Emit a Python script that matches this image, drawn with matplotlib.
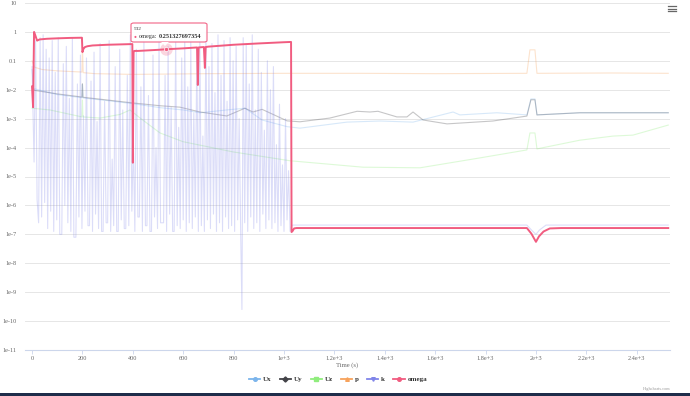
import matplotlib.pyplot as plt
import numpy as np
from matplotlib.lines import Line2D
from matplotlib.patches import FancyBboxPatch, Polygon, Rectangle

plt.rcParams['font.family'] = ['Liberation Serif', 'DejaVu Serif']

# ---- data (time in s, residual values) ----
omega_t = [0, 4, 8, 12, 20, 30, 60, 100, 150, 198, 200, 204, 210, 220, 240, 300, 350,
           398, 400, 403, 406, 420, 500, 532, 600, 655, 658, 661, 682, 686, 689, 700,
           800, 900, 1000, 1028, 1030, 1034, 1040, 1050, 1500, 1964, 1982, 2000, 2012,
           2030, 2055, 2100, 2525]
omega = [0.013, 0.0025, 1.0, 0.8, 0.5, 0.55, 0.58, 0.6, 0.62, 0.63, 0.2, 0.26, 0.3, 0.32,
         0.34, 0.36, 0.37, 0.38, 3e-5, 0.2, 0.22, 0.22, 0.24, 0.2513, 0.27, 0.29, 0.0146,
         0.29, 0.3, 0.057, 0.3, 0.31, 0.36, 0.4, 0.44, 0.45, 1.2e-7, 1.3e-7, 1.6e-7,
         1.65e-7, 1.65e-7, 1.65e-7, 1.05e-7, 5.5e-8, 8.5e-8, 1.25e-7, 1.6e-7, 1.65e-7,
         1.65e-7]

Ux_t = [0, 6, 100, 198, 200, 202, 300, 400, 508, 600, 667, 773, 845, 913, 1012, 1063,
        1250, 1381, 1512, 1671, 1698, 1845, 1964, 1980, 1996, 2004, 2174, 2525]
Ux = [0.05, 0.011, 0.0068, 0.0053, 0.015, 0.0052, 0.0042, 0.0033, 0.0024, 0.002, 0.0016,
      0.002, 0.0023, 0.0009, 0.00053, 0.00047, 0.00076, 0.00083, 0.00076, 0.0017, 0.00135,
      0.0016, 0.00135, 0.0048, 0.0048, 0.00135, 0.0016, 0.0016]

Uy_t = [0, 10, 100, 198, 200, 202, 300, 400, 508, 587, 667, 773, 845, 877, 913, 1012,
        1063, 1182, 1290, 1341, 1373, 1448, 1488, 1512, 1552, 1647, 1829, 1964, 1980,
        1996, 2004, 2174, 2525]
Uy = [0.012, 0.0095, 0.0072, 0.0056, 0.016, 0.0055, 0.0044, 0.0035, 0.0028, 0.0025,
      0.0017, 0.00124, 0.0023, 0.0017, 0.0021, 0.00084, 0.00078, 0.00105, 0.0018, 0.0017,
      0.0018, 0.00115, 0.00115, 0.0017, 0.0009, 0.00066, 0.00083, 0.00123, 0.0045,
      0.0045, 0.00135, 0.0016, 0.0016]

Uz_t = [0, 71, 198, 200, 202, 270, 349, 389, 429, 508, 599, 797, 1024, 1313, 1540, 1778,
        1964, 1976, 1996, 2004, 2174, 2306, 2385, 2525]
Uz = [0.0023, 0.002, 0.00115, 0.0044, 0.00115, 0.00105, 0.0014, 0.002, 0.00105, 0.00032,
      0.00016, 7.1e-5, 3.5e-5, 2.1e-5, 2e-5, 4.4e-5, 8.3e-5, 3.2e-4, 3.2e-4, 9e-5,
      1.8e-4, 2.5e-4, 2.7e-4, 6e-4]

p_t = [0, 10, 40, 100, 198, 200, 203, 250, 400, 700, 1000, 1300, 1600, 1964, 1976, 1996,
       2004, 2300, 2525]
p = [0.1, 0.06, 0.05, 0.045, 0.041, 0.3, 0.039, 0.036, 0.034, 0.036, 0.037, 0.037, 0.036,
     0.037, 0.24, 0.24, 0.037, 0.038, 0.037]

# k oscillates wildly until ~1030 s (log10 values)
k_t = [0, 8, 14, 20, 26, 32, 38, 44, 50, 56, 62, 68, 74, 80, 86, 92, 98, 104, 110, 118,
       124, 130, 136, 142, 148, 154, 160, 166, 174, 180, 186, 192, 198, 204, 210, 216,
       222, 228, 234, 240, 246, 252, 258, 264, 270, 276, 282, 288, 294, 300, 306, 312,
       318, 324, 330, 336, 342, 348, 354, 360, 366, 372, 378, 384, 390, 396, 402, 408,
       414, 420, 426, 432, 438, 444, 450, 456, 462, 468, 474, 480, 486, 492, 498, 504,
       510, 516, 522, 528, 534, 540, 546, 552, 558, 564, 570, 576, 582, 588, 594, 600,
       606, 612, 618, 624, 630, 636, 642, 648, 654, 660, 666, 672, 678, 684, 690, 696,
       702, 708, 714, 720, 726, 732, 738, 744, 750, 756, 762, 768, 774, 780, 786, 792,
       798, 804, 810, 816, 822, 828, 833, 838, 844, 850, 856, 862, 868, 874, 880, 886,
       892, 898, 904, 910, 916, 922, 928, 934, 940, 946, 952, 958, 964, 970, 976, 982,
       988, 994, 1000, 1006, 1012, 1018, 1024, 1030, 1036, 1964, 1982, 2000, 2014, 2040,
       2525]
k_log = [-1.2, -4.5, -0.3, -5.8, -6.6, -0.2, -6.4, -0.1, -5.9, -0.6, -6.8, -0.9, -6.2,
         -0.3, -6.9, -1.4, -6.5, -0.2, -7.0, -7.0, -1.1, -6.0, -0.5, -6.6, -2.3, -6.9,
         -0.2, -7.1, -7.1, -1.8, -6.4, -0.8, -6.8, -2.9, -6.2, -0.9, -6.7, -6.7, -1.7,
         -6.9, -0.7, -6.3, -3.1, -6.8, -0.4, -6.9, -6.9, -2.4, -6.6, -6.6, -0.3, -6.9,
         -4.4, -6.7, -1.2, -6.9, -6.9, -0.6, -6.5, -2.7, -6.8, -6.8, -1.5, -6.7, -0.1,
         -6.2, -3.8, -6.9, -0.6, -6.4, -6.4, -1.9, -6.9, -0.3, -6.7, -6.7, -2.2, -6.9,
         -6.9, -0.8, -6.4, -4.0, -6.8, -0.2, -6.6, -6.6, -6.6, -1.5, -6.9, -0.5, -6.3,
         -2.6, -6.9, -6.9, -0.2, -6.7, -3.3, -6.8, -0.9, -6.5, -0.1, -6.9, -1.9, -6.6,
         -0.3, -6.8, -2.8, -6.4, -0.6, -6.9, -0.2, -6.7, -3.6, -6.9, 0.0, -6.5, -1.2,
         -6.8, -0.4, -6.3, -2.1, -6.9, -0.1, -6.6, -1.5, -6.9, -0.3, -6.4, -2.4, -6.8,
         -0.2, -6.7, -1.0, -6.9, -0.5, -6.5, -3.0, -6.9, -9.6, -0.2, -6.6, -0.4, -6.9,
         -1.8, -6.4, -0.1, -6.8, -2.7, -6.6, -0.6, -6.9, -1.4, -6.3, -3.4, -6.8, -1.0,
         -6.5, -2.0, -6.8, -1.2, -6.6, -3.9, -6.9, -2.5, -6.7, -4.6, -6.9, -3.0, -6.5,
         -4.8, -6.9, -6.7, -6.68, -6.68, -6.85, -7.0, -6.85, -6.68, -6.68]
k = [10 ** v for v in k_log]

names = ['Ux', 'Uy', 'Uz', 'p', 'k', 'omega']
colors = ['#7cb5ec', '#434348', '#90ed7d', '#f7a35c', '#8085e9', '#f15c80']
symbols = ['o', 'D', 's', '^', 'v', 'o']

fig = plt.figure(figsize=(6.9, 3.96), dpi=100)
ax = fig.add_axes([25 / 690, 1 - 350 / 396, 645 / 690, 347 / 396])

# dimmed (inactive) series, omega highlighted as in the hover state
series = [(Ux_t, Ux), (Uy_t, Uy), (Uz_t, Uz), (p_t, p), (k_t, k)]
alphas = [0.3, 0.3, 0.3, 0.3, 0.28]
for (t, v), c, a in zip(series, colors[:5], alphas):
    ax.plot(t, v, color=c, lw=0.8, alpha=a, zorder=2)
ax.plot(omega_t, omega, color=colors[5], lw=1.4, zorder=4)

ax.set_yscale('log')
ax.set_ylim(1e-11, 10)
ax.set_xlim(-28, 2532)
yt = [10.0 ** e for e in range(1, -12, -1)]
ylab = ['10', '1', '0.1'] + ['1e-%d' % e for e in range(2, 12)]
ax.set_yticks(yt)
ax.set_yticklabels(ylab)
ax.minorticks_off()
xt = [0, 200, 400, 600, 800, 1000, 1200, 1400, 1600, 1800, 2000, 2200, 2400]
xlab = ['0', '200', '400', '600', '800', '1e+3', '1.2e+3', '1.4e+3', '1.6e+3', '1.8e+3',
        '2e+3', '2.2e+3', '2.4e+3']
ax.set_xticks(xt)
ax.set_xticklabels(xlab)

ax.grid(axis='y', color='#e6e6e6', lw=0.7)
for s in ['top', 'right', 'left']:
    ax.spines[s].set_visible(False)
ax.spines['bottom'].set_color('#ccd6eb')
ax.spines['bottom'].set_linewidth(0.8)
ax.tick_params(axis='y', length=0, labelsize=4.5, labelcolor='#666666', pad=6)
ax.tick_params(axis='x', length=3, width=0.6, color='#ccd6eb', labelsize=4.5,
               labelcolor='#666666', pad=1.5)
ax.set_xlabel('Time (s)', fontsize=4.8, color='#666666', labelpad=1)

# hover marker and tooltip at t = 532
ax.plot([532], [0.2513], 'o', ms=9, color=colors[5], alpha=0.25, mec='none', zorder=5)
ax.plot([532], [0.2513], 'o', ms=3, color=colors[5], mec='white', mew=0.5, zorder=6)

def fx(px):
    return px / 690

def fy(py):
    return 1 - py / 396

box = FancyBboxPatch((fx(131), fy(42)), fx(207) - fx(131), fy(23) - fy(42),
                     boxstyle='round,pad=0,rounding_size=0.004', transform=fig.transFigure,
                     fc='#ffffff', ec=colors[5], lw=0.8, alpha=0.95, zorder=10)
fig.patches.append(box)
tip = Polygon([(fx(161), fy(42)), (fx(169), fy(42)), (fx(165), fy(46))], closed=True,
              transform=fig.transFigure, fc='#ffffff', ec='none', zorder=11)
fig.patches.append(tip)
fig.text(fx(134), fy(29.5), '532', fontsize=3.8, color='#333333', va='center', zorder=12)
fig.text(fx(134), fy(36.5), '\u25cf', fontsize=3.5, color=colors[5], va='center', zorder=12)
fig.text(fx(138.5), fy(36.5), 'omega:', fontsize=4.5, color='#333333', va='center', zorder=12)
fig.text(fx(158.5), fy(36.5), '0.251327697354', fontsize=4.5, color='#333333',
         va='center', fontweight='bold', zorder=12)

# legend
handles = [Line2D([0], [0], color=c, lw=1.3, marker=m, ms=2.6, mec=c)
           for c, m in zip(colors, symbols)]
leg = fig.legend(handles, names, loc='center', bbox_to_anchor=(fx(338), fy(379)), ncol=6,
                 frameon=False, prop={'size': 5, 'weight': 'bold'}, handlelength=1.6,
                 handletextpad=0.4, columnspacing=1.2)
for txt in leg.get_texts():
    txt.set_color('#333333')

# menu icon and credits
for yy in [6, 8.5, 11]:
    fig.add_artist(Line2D([fx(668), fx(676)], [fy(yy), fy(yy)], color='#666666', lw=0.9))
fig.text(fx(670), fy(389), 'Highcharts.com', fontsize=3.2, color='#999999', ha='right',
         va='center')
fig.add_artist(Rectangle((0, 0), 1, 3 / 396, transform=fig.transFigure, fc='#1f2d4a',
                         ec='none'))

plt.savefig('out.png', dpi=100)
